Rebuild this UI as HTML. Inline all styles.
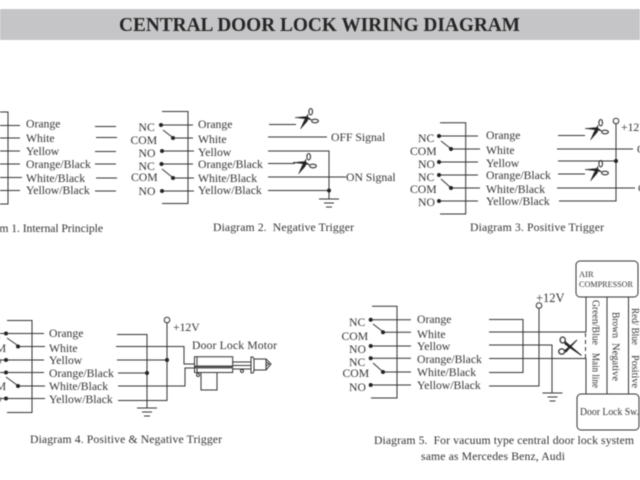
<!DOCTYPE html>
<html>
<head>
<meta charset="utf-8">
<title>Central Door Lock Wiring Diagram</title>
<style>
html,body{margin:0;padding:0;background:#fff;width:640px;height:480px;overflow:hidden}
svg{display:block;filter:blur(.45px)}
text{font-family:"Liberation Serif",serif;font-size:11.7px;fill:#333}
.l{stroke:#333;stroke-width:1;fill:none}
.d{fill:#222}
</style>
</head>
<body>
<svg width="640" height="480" viewBox="0 0 640 480" xmlns="http://www.w3.org/2000/svg">
<defs>
<pattern id="p" width="2" height="2" patternUnits="userSpaceOnUse">
<rect width="2" height="2" fill="#c9c9cb"/><rect width="1" height="1" fill="#b9b9bb"/>
</pattern>
<g id="sc">
<path d="M-11 -.5 L1 -1.500 L6 2 L1 1 Z" fill="#222" stroke="#222" stroke-width=".5"/>
<path d="M-5.500 11 L-2 3 L2 -4 L1.500 3 Z" fill="#222" stroke="#222" stroke-width=".5"/>
<ellipse cx="9" cy="3" rx="3.400" ry="1.800" fill="none" stroke="#333" stroke-width="1.100"/>
<ellipse cx="4.700" cy="-6.300" rx="1.800" ry="3.200" fill="none" stroke="#333" stroke-width="1.100"/>
</g>
<g id="gnd">
<path class="l" d="M-10 0H10M-5 4H5M-3 8H3"/>
</g>
</defs>

<rect x="0" y="9" width="640" height="31" fill="url(#p)"/>
<text x="119" y="31" textLength="401" lengthAdjust="spacingAndGlyphs" style="font-size:20px;font-weight:bold;fill:#262626">CENTRAL DOOR LOCK WIRING DIAGRAM</text>

<!-- Diagram 1 -->
<path class="l" d="M0 112H8V204H0M0 125.500H20M0 138H20M0 151H20M0 164H20M0 177.500H22M0 190.500H20"/>
<path class="l" d="M95 126.500H116M96 137.500H117M95 151.500H116M95 164H116M96 178H117M95 191H116"/>
<text x="26" y="127.500">Orange</text>
<text x="26" y="142">White</text>
<text x="26" y="155">Yellow</text>
<text x="26" y="168">Orange/Black</text>
<text x="26" y="182">White/Black</text>
<text x="26" y="194">Yellow/Black</text>
<text x="-32" y="232" textLength="135">Diagram 1. Internal Principle</text>

<!-- Diagram 2 -->
<path class="l" d="M162 111.500H188V203.500H162"/>
<path class="l" d="M161 125H193M173 138H193M162 151H194M161.500 164H193M173 178H194M162 191H194M163 130L172 137M162 169L172 177"/>
<circle class="d" cx="161" cy="125" r="2"/><circle class="d" cx="173" cy="138" r="2"/><circle class="d" cx="162" cy="151" r="2"/><circle class="d" cx="161.500" cy="164" r="2"/><circle class="d" cx="173" cy="178" r="2"/><circle class="d" cx="162" cy="191" r="2"/>
<text x="138.500" y="131">NC</text><text x="130.500" y="144">COM</text><text x="138.500" y="157">NO</text><text x="138.500" y="170">NC</text><text x="131" y="181">COM</text><text x="138.500" y="195">NO</text>
<text x="198" y="128">Orange</text>
<text x="198" y="143">White</text>
<text x="198" y="156">Yellow</text>
<text x="198" y="168">Orange/Black</text>
<text x="198" y="182">White/Black</text>
<text x="198" y="194">Yellow/Black</text>
<path class="l" d="M269 124.500H296M268 137H327M268 151H329V199M268 177H346M268 163.500H295M268 190.500H329"/>
<use href="#sc" x="306" y="118"/>
<use href="#sc" x="304" y="163"/>
<circle class="d" cx="329" cy="190.500" r="2"/>
<use href="#gnd" x="329" y="199"/>
<text x="331" y="141">OFF Signal</text>
<text x="346" y="181">ON Signal</text>
<text x="213" y="231" xml:space="preserve" textLength="141">Diagram 2.  Negative Trigger</text>

<!-- Diagram 3 -->
<path class="l" d="M440 122.700H465.700V214H440"/>
<path class="l" d="M439 136H478M451 149H480M439 162H478M439 175H478M451 188H480M439 201H478M441 141L450 148M441 179L450 187"/>
<circle class="d" cx="439" cy="136" r="2"/><circle class="d" cx="451" cy="149" r="2"/><circle class="d" cx="439" cy="162" r="2"/><circle class="d" cx="439" cy="175" r="2"/><circle class="d" cx="451" cy="188" r="2"/><circle class="d" cx="439" cy="201" r="2"/>
<text x="418" y="142">NC</text><text x="410" y="155">COM</text><text x="418" y="168">NO</text><text x="418" y="181">NC</text><text x="410" y="193">COM</text><text x="418" y="206">NO</text>
<text x="486" y="139">Orange</text>
<text x="486" y="154">White</text>
<text x="486" y="167">Yellow</text>
<text x="486" y="179">Orange/Black</text>
<text x="486" y="193">White/Black</text>
<text x="486" y="205">Yellow/Black</text>
<path class="l" d="M558 135.500H585M557 149H633M558 161H616M558 174H585M557 188H635M559 201H616V124"/>
<circle cx="616" cy="121" r="2.800" fill="#fff" stroke="#333"/>
<circle class="d" cx="616" cy="161" r="2"/>
<use href="#sc" x="596" y="129"/>
<use href="#sc" x="596" y="170"/>
<text x="621" y="131">+12V</text>
<text x="637" y="153">OFF</text>
<text x="638" y="192">ON</text>
<text x="470" y="231" textLength="134">Diagram 3. Positive Trigger</text>

<!-- Diagram 4 -->
<path class="l" d="M7 320.500H32V412.500H7"/>
<path class="l" d="M0 333.500H44M18 346.500H45M0 360H44M0 372.500H44M18 386H45M0 398.500H45M7 338L17 345M6 377L17 385"/>
<circle class="d" cx="6" cy="333.500" r="2"/><circle class="d" cx="18" cy="346.500" r="2"/><circle class="d" cx="6" cy="360" r="2"/><circle class="d" cx="6" cy="372.500" r="2"/><circle class="d" cx="18" cy="386" r="2"/><circle class="d" cx="6" cy="398.500" r="2"/>
<text x="-15.500" y="339">NC</text><text x="-20.500" y="352">COM</text><text x="-15.500" y="365">NO</text><text x="-15.500" y="378">NC</text><text x="-20.500" y="390">COM</text><text x="-15.500" y="403">NO</text>
<text x="49" y="337">Orange</text>
<text x="49" y="352">White</text>
<text x="49" y="364">Yellow</text>
<text x="49" y="377">Orange/Black</text>
<text x="49" y="390">White/Black</text>
<text x="49" y="403">Yellow/Black</text>
<path class="l" d="M117 334.500H147V408M116 346.500H184V364H195M117 360H167M118 373H147M118 386H185V368H195M118 400.500H167V323"/>
<circle cx="167" cy="320" r="2.800" fill="#fff" stroke="#333"/>
<circle class="d" cx="167" cy="360" r="2"/><circle class="d" cx="147" cy="373" r="2"/>
<use href="#gnd" x="147" y="408"/>
<text x="173" y="331">+12V</text>
<text x="192" y="349" textLength="85">Door Lock Motor</text>
<path class="l" d="M194.500 356.700H232.700V372.500H194.500ZM197 356.700V372.500M194.500 366H232.700M201 372.500V390H217V372.500M233 362H251M233 365.500H251M233 369H251"/>
<rect x="195" y="366" width="38" height="2.500" fill="#555"/>
<circle cx="198" cy="375" r="1.500" fill="none" stroke="#333"/>
<circle cx="242" cy="371" r="1.500" fill="none" stroke="#333"/>
<path class="l" d="M251 357H253L254 359V371L253 373H251ZM254 359H266V370H254M266 359L271 364L266 370M266 362L269 364L266 366"/>
<text x="30" y="443" textLength="192">Diagram 4. Positive &amp; Negative Trigger</text>

<!-- Diagram 5 -->
<path class="l" d="M372 306.300H397V398H371"/>
<path class="l" d="M371 319.700H411M383 332.300H411M371 346H411M371 358.300H411M383 372H411M371 385H411M373 324L382 331M373 363L382 371"/>
<circle class="d" cx="370.700" cy="319.700" r="2"/><circle class="d" cx="383" cy="332.300" r="2"/><circle class="d" cx="370.700" cy="346" r="2"/><circle class="d" cx="370.700" cy="358.300" r="2"/><circle class="d" cx="383" cy="372" r="2"/><circle class="d" cx="370.700" cy="385" r="2"/>
<text x="349" y="326">NC</text><text x="341.500" y="340">COM</text><text x="349" y="353">NO</text><text x="349" y="366">NC</text><text x="342.500" y="377">COM</text><text x="349" y="391">NO</text>
<text x="417" y="323">Orange</text>
<text x="417" y="338">White</text>
<text x="417" y="350">Yellow</text>
<text x="417" y="363">Orange/Black</text>
<text x="417" y="376">White/Black</text>
<text x="417" y="389">Yellow/Black</text>
<path class="l" d="M489 319.500H523V372.500H489M489 332H586M489 345H552V393M489 358.500H586M489 386H539V308"/>
<circle cx="539" cy="305.500" r="2.800" fill="#fff" stroke="#333"/>
<use href="#gnd" x="552.500" y="393"/>
<text x="536" y="302" style="font-size:12.500px">+12V</text>
<rect class="l" x="576" y="261" width="62" height="36" rx="4"/>
<rect class="l" x="577" y="394" width="62" height="36" rx="4"/>
<path class="l" d="M586 297V332M586 358V394M607 297V394M628.500 297V394"/>
<path class="l" stroke-dasharray="4 3" d="M585.500 333V358"/>
<path d="M565 341.500L581.500 355.500L569 347L565 344Z M565 350.500L577 340L570 347.500L566 352Z" fill="#222" stroke="#222" stroke-width=".9"/>
<ellipse cx="562.700" cy="340" rx="2.600" ry="3" fill="none" stroke="#333" stroke-width="1.300"/>
<ellipse cx="561.700" cy="351.500" rx="3" ry="2.600" fill="none" stroke="#333" stroke-width="1.300"/>
<text x="579" y="277" style="font-size:8.500px">AIR</text>
<text x="579" y="287" textLength="54" lengthAdjust="spacingAndGlyphs" style="font-size:8.500px">COMPRESSOR</text>
<text x="580" y="415" textLength="59" lengthAdjust="spacingAndGlyphs" style="font-size:10.500px">Door Lock Sw.</text>
<text transform="translate(592.500 300) rotate(90)" textLength="45" lengthAdjust="spacingAndGlyphs" style="font-size:10.500px">Green/Blue</text>
<text transform="translate(592.500 353) rotate(90)" textLength="35" lengthAdjust="spacingAndGlyphs" style="font-size:10.500px">Main line</text>
<text transform="translate(612.500 312) rotate(90)" textLength="26" lengthAdjust="spacingAndGlyphs" style="font-size:10.500px">Brown</text>
<text transform="translate(612.500 343) rotate(90)" textLength="38" lengthAdjust="spacingAndGlyphs" style="font-size:10.500px">Negative</text>
<text transform="translate(632 308) rotate(90)" textLength="37" lengthAdjust="spacingAndGlyphs" style="font-size:10.500px">Red/ Blue</text>
<text transform="translate(632 355) rotate(90)" textLength="33" lengthAdjust="spacingAndGlyphs" style="font-size:10.500px">Positive</text>
<text x="374" y="444" xml:space="preserve" textLength="260">Diagram 5.  For vacuum type central door lock system</text>
<text x="421" y="460" textLength="144">same as Mercedes Benz, Audi</text>
</svg>
</body>
</html>
